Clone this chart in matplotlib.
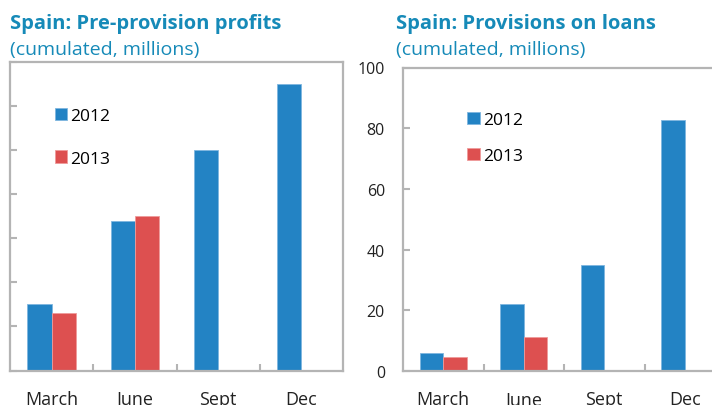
import numpy as np
import matplotlib
matplotlib.use("Agg")
import matplotlib.pyplot as plt

plt.rcParams['font.family'] = ['Open Sans', 'DejaVu Sans']

# === data ===
quarters = ["March", "June", "Sept", "Dec"]
profits_2012 = [1.5, 3.4, 5.0, 6.5]
profits_2013 = [1.3, 3.5, np.nan, np.nan]
provisions_2012 = [5.8, 22.0, 34.8, 82.6]
provisions_2013 = [4.6, 11.1, np.nan, np.nan]
provision_ticks = [0, 20, 40, 60, 80, 100]

blue = "#2383c4"
red = "#dd5050"
title_col = "#168ab8"
spine_col = "#b4b4b4"
bar_w = 0.29


def draw_panel(ax, v12, v13, leg_anchor, leg_spacing):
    x = np.arange(len(quarters))
    v12 = np.array(v12, dtype=float)
    v13 = np.array(v13, dtype=float)
    m12 = ~np.isnan(v12)
    m13 = ~np.isnan(v13)
    ax.bar(x[m12] - bar_w / 2, v12[m12], bar_w, color=blue,
           edgecolor="#7fb6df", linewidth=0.6, label="2012", zorder=2)
    ax.bar(x[m13] + bar_w / 2, v13[m13], bar_w, color=red,
           edgecolor="#ef9a9a", linewidth=0.6, label="2013", zorder=2)
    ax.set_xlim(-0.5, len(quarters) - 0.5)
    ax.set_xticks(x)
    ax.set_xticklabels(quarters, fontsize=13)
    ax.set_xticks(x[:-1] + 0.5, minor=True)
    ax.tick_params(axis="x", which="major", length=0, pad=14, colors="#222222")
    ax.tick_params(axis="x", which="minor", direction="in", length=5,
                   width=1.5, color=spine_col)
    ax.tick_params(axis="y", direction="in", length=5, width=1.5,
                   color=spine_col, labelcolor="#222222", labelsize=11.5, pad=13)
    for s in ax.spines.values():
        s.set_color(spine_col)
        s.set_linewidth(1.6)
    ax.legend(loc="upper left", bbox_to_anchor=leg_anchor, frameon=False,
              fontsize=12.5, handlelength=0.7, handleheight=0.7,
              handletextpad=0.2, labelspacing=leg_spacing, borderpad=0,
              borderaxespad=0)


fig = plt.figure(figsize=(7.12, 4.06), dpi=100)

ax1 = fig.add_axes([10 / 712, 1 - 371.5 / 406, 333 / 712, 308.5 / 406])
draw_panel(ax1, profits_2012, profits_2013, (0.135, 0.85), 1.5)
ax1.set_ylim(0, 7)
ax1.set_yticks(range(0, 8))
ax1.set_yticklabels([])

ax2 = fig.add_axes([403 / 712, 1 - 372 / 406, 322 / 712, 303.5 / 406])
draw_panel(ax2, provisions_2012, provisions_2013, (0.2, 0.855), 1.15)
ax2.set_ylim(0, 100)
ax2.set_yticks(provision_ticks)

fig.text(10 / 712, 1 - 29 / 406, "Spain: Pre-provision profits", fontsize=14.5,
         fontweight="bold", color=title_col, va="baseline")
fig.text(10 / 712, 1 - 55 / 406, "(cumulated, millions)", fontsize=14,
         color=title_col, va="baseline")
fig.text(396 / 712, 1 - 29 / 406, "Spain: Provisions on loans", fontsize=14.5,
         fontweight="bold", color=title_col, va="baseline")
fig.text(396 / 712, 1 - 55 / 406, "(cumulated, millions)", fontsize=14,
         color=title_col, va="baseline")

fig.savefig("out.png", dpi=100)
